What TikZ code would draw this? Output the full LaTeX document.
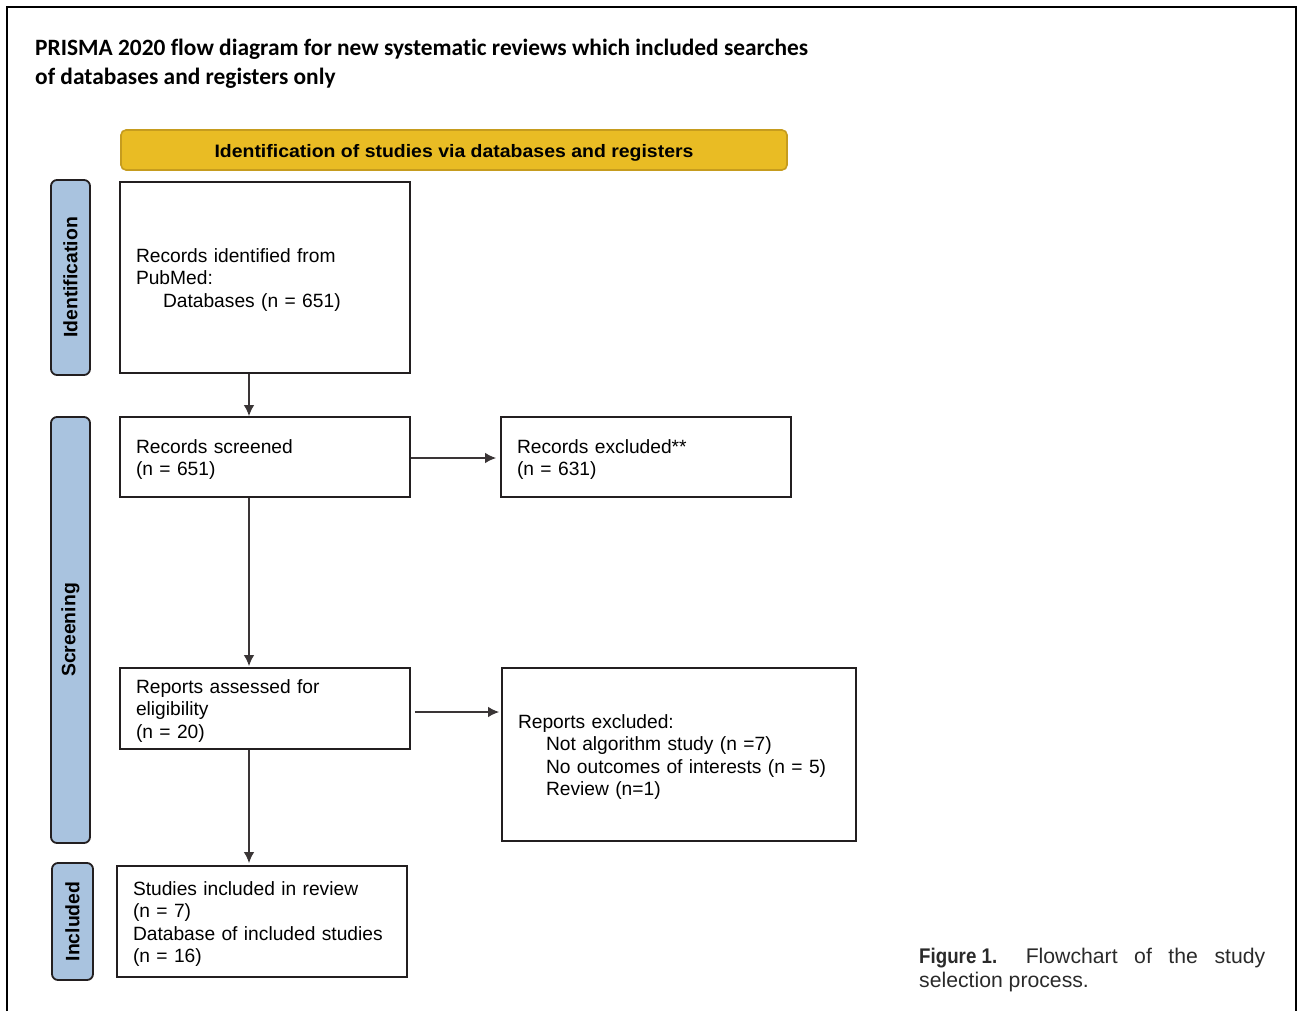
\documentclass[tikz,border=0pt]{standalone}
\usepackage{fontspec}
\setmainfont{Liberation Sans}
\newfontfamily\titlefont[RawFeature=-liga]{Carlito}
\usetikzlibrary{arrows.meta}
\definecolor{boxline}{HTML}{231F20}
\definecolor{arrowline}{HTML}{3A3536}
\definecolor{bannerfill}{HTML}{E9BC24}
\definecolor{bannerline}{HTML}{C69C1E}
\definecolor{barfill}{HTML}{A9C3DF}
\definecolor{captext}{HTML}{2A2A2A}
\tikzset{
  flowbox/.style={draw=boxline, line width=1.8pt, fill=white, rectangle, inner xsep=15pt, inner ysep=0pt, align=left, font=\fontsize{19.2}{22.5}\selectfont, execute at end node={\par\vspace*{-5pt}}},
  sidebar/.style={draw=boxline, line width=1.8pt, fill=barfill, rounded corners=6pt, rotate=90, inner sep=0pt, font=\fontsize{19.4}{22}\selectfont\bfseries},
  flowarrow/.style={draw=arrowline, line width=1.3pt, -{Latex[length=11pt,width=10.5pt]}},
}
\begin{document}
\begin{tikzpicture}[x=1pt,y=-1pt]
\useasboundingbox (0,0) rectangle (1297,1011);
% outer frame
\draw[line width=2.4pt, black] (7,1011) -- (7,7) -- (1296,7) -- (1296,1011);
% title
\node[anchor=west, align=left, inner sep=0pt, font=\titlefont\fontsize{23.4}{28.5}\selectfont\bfseries] (title) at (35,64)
  {PRISMA 2020 flow diagram for new systematic reviews which included searches\\of databases and registers only};
% banner
\node[draw=bannerline, line width=1.6pt, fill=bannerfill, rounded corners=5pt, minimum width=666pt, minimum height=40pt, inner sep=0pt, text height=15pt, text depth=0pt] (banner) at (454,150)
  {\resizebox{479pt}{\height}{\fontsize{18}{20}\selectfont\bfseries Identification of studies via databases and registers}};
% side bars
\node[sidebar, minimum width=195pt, minimum height=39pt] (barid) at (70.5,277.5) {Identification};
\node[sidebar, minimum width=426pt, minimum height=39pt] (barsc) at (70.5,630) {Screening};
\node[sidebar, minimum width=117pt, minimum height=41pt] (barin) at (72.5,921.5) {Included};
% boxes
\node[flowbox, minimum width=290pt, minimum height=191pt, text width=258pt] (b1) at (265,277.5)
  {Records identified from\\PubMed:\\\hspace*{27pt}Databases (n = 651)};
\node[flowbox, minimum width=290pt, minimum height=80pt, text width=258pt] (b2) at (265,457)
  {Records screened\\(n = 651)};
\node[flowbox, minimum width=290pt, minimum height=80pt, text width=258pt] (b3) at (646,457)
  {Records excluded**\\(n = 631)};
\node[flowbox, minimum width=290pt, minimum height=81pt, text width=258pt] (b4) at (265,708.5)
  {Reports assessed for\\eligibility\\(n = 20)};
\node[flowbox, minimum width=354pt, minimum height=173pt, text width=322pt] (b5) at (679,754.5)
  {Reports excluded:\\\hspace*{28pt}Not algorithm study (n =7)\\\hspace*{28pt}No outcomes of interests (n = 5)\\\hspace*{28pt}Review (n=1)};
\node[flowbox, minimum width=290pt, minimum height=111pt, text width=258pt] (b6) at (262,921.5)
  {Studies included in review\\(n = 7)\\Database of included studies\\(n = 16)};
% arrows
\draw[flowarrow] (b1.south -| 249,0) -- (b2.north -| 249,0);
\draw[flowarrow, shorten >=4pt] ([yshift=-1pt]b2.east) -- ([yshift=-1pt]b2.east -| b3.west);
\draw[flowarrow, shorten >=1pt] (b2.south -| 249,0) -- (b4.north -| 249,0);
\draw[flowarrow, shorten <=4pt, shorten >=2pt] ([yshift=-3.5pt]b4.east) -- ([yshift=-3.5pt]b4.east -| b5.west);
\draw[flowarrow, shorten >=2pt] (b4.south -| 249,0) -- (b6.north -| 249,0);
% caption
\node[anchor=north west, align=left, inner sep=0pt, text=captext, font=\fontsize{21.2}{24}\selectfont] (caption) at (919,948)
  {\makebox[346pt][s]{\resizebox{78pt}{\height}{\bfseries Figure 1.}\hspace{12pt} Flowchart of the study}\\selection process.};
\end{tikzpicture}
\end{document}
